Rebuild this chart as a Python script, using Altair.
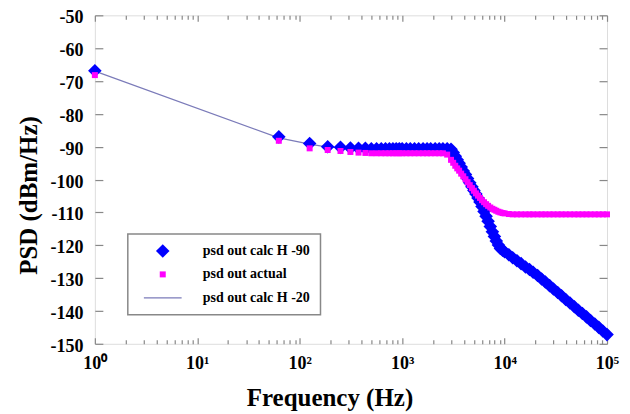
import altair as alt
import pandas as pd

# ---------------- data ----------------
freq = [1, 62.5, 125, 187.5, 250, 312.5, 375, 437.5, 500, 562.5, 625, 687.5, 750, 812.5, 875, 937.5,
        1000, 1100, 1200, 1320, 1450, 1600, 1750, 1900, 2100, 2300, 2500, 2750,
        3000, 3150, 3300, 3450, 3600, 3770, 3950, 4150, 4350, 4570, 4800, 5020, 5250, 5500, 5750, 6020,
        6300, 6600, 6900, 7250, 7600, 7950, 8300, 8700, 9100, 9550,
        10000, 11000, 12000, 13200, 14500, 16000, 17500, 19000, 21000, 23000, 25000, 27500,
        30000, 33000, 36000, 39500, 43500, 48000, 52500, 57500, 63000, 69000, 76000, 83000, 91000, 100000]

psd_calc_h90 = [-66.9, -87.0, -89.0, -90.0, -90.2, -90.4, -90.5, -90.5, -90.6, -90.6, -90.6, -90.6, -90.6, -90.6, -90.6, -90.6,
                -90.6, -90.6, -90.6, -90.6, -90.6, -90.6, -90.6, -90.6, -90.6, -90.6, -90.6, -90.6,
                -90.8, -91.8, -92.9, -94.0, -95.0, -96.2, -97.4, -98.5, -99.7, -101.0, -102.2, -103.3, -104.4, -105.6, -106.8, -108.2,
                -109.7, -111.2, -112.7, -114.3, -115.9, -117.3, -118.7, -119.9, -121.0, -121.5,
                -122.0, -122.9, -123.8, -124.7, -125.6, -126.6, -127.4, -128.2, -129.2, -130.3, -131.2, -132.3,
                -133.3, -134.4, -135.4, -136.5, -137.6, -138.7, -139.8, -140.8, -141.8, -142.9, -144.0, -145.0, -146.1, -147.2]

psd_actual = [-68.2, -88.2, -90.5, -91.0, -91.3, -91.6, -91.8, -91.9, -92.0, -92.0, -92.0, -92.0, -92.0, -92.0, -92.0, -92.0,
              -92.0, -92.0, -92.0, -92.0, -92.0, -92.0, -92.0, -92.0, -92.0, -92.0, -92.0, -92.4,
              -94.0, -94.9, -95.8, -96.6, -97.3, -98.2, -99.0, -99.9, -100.8, -101.7, -102.6, -103.4, -104.2, -104.9, -105.6, -106.3,
              -106.9, -107.5, -108.0, -108.5, -108.9, -109.2, -109.5, -109.8, -110.0, -110.2,
              -110.3, -110.5, -110.6, -110.6, -110.6, -110.6, -110.6, -110.6, -110.6, -110.6, -110.6, -110.6,
              -110.6, -110.6, -110.6, -110.6, -110.6, -110.6, -110.6, -110.6, -110.6, -110.6, -110.6, -110.6, -110.6, -110.6]

psd_calc_h20 = [-67.0, -87.3, -89.2, -90.1, -90.3, -90.4, -90.5, -90.5, -90.6, -90.6, -90.6, -90.6, -90.6, -90.6, -90.6, -90.6,
                -90.6, -90.6, -90.6, -90.6, -90.6, -90.6, -90.6, -90.6, -90.6, -90.6, -90.6, -90.6,
                -90.8, -91.8, -92.9, -94.0, -95.0, -96.2, -97.4, -98.5, -99.7, -101.0, -102.2, -103.3, -104.4, -105.6, -106.8, -108.2,
                -109.7, -111.2, -112.7, -114.3, -115.9, -117.3, -118.7, -119.9, -121.0, -121.5,
                -122.0, -122.9, -123.8, -124.7, -125.6, -126.6, -127.4, -128.2, -129.2, -130.3, -131.2, -132.3,
                -133.3, -134.4, -135.4, -136.5, -137.6, -138.7, -139.8, -140.8, -141.8, -142.9, -144.0, -145.0, -146.1, -147.2]

series_names = ["psd out calc H -90", "psd out actual", "psd out calc H -20"]
series_colors = ["#0000ff", "#ff00ff", "#7b7bb9"]

x_major = [1, 10, 100, 1000, 10000, 100000]
x_minor = [m * d for d in [1, 10, 100, 1000, 10000] for m in range(2, 10)]
y_ticks = list(range(-150, -49, 10))
x_labels = ["10⁰", "10¹", "10²", "10³", "10⁴", "10⁵"]

# ---------------- tables ----------------
df_line = pd.DataFrame({"freq": freq, "psd": psd_calc_h20})
df_pts = pd.concat([
    pd.DataFrame({"freq": freq, "psd": psd_calc_h90, "series": series_names[0]}),
    pd.DataFrame({"freq": freq, "psd": psd_actual, "series": series_names[1]}),
], ignore_index=True)

FONT = "Liberation Serif"
GRAY = "#888888"

x_scale = alt.Scale(type="log", domain=[1, 100000], nice=False)
y_scale = alt.Scale(domain=[-150, -50], nice=False, zero=False)

label_expr = "[" + ",".join("'%s'" % s for s in x_labels) + "][round(log(datum.value)/LN10)]"

x_label_axis = alt.Axis(orient="bottom", values=x_major, labelExpr=label_expr, ticks=False, domain=False,
                        grid=False, labelFont=FONT, labelFontSize=18, labelFontWeight="bold", labelColor="black",
                        labelPadding=11, labelFlush=False, title="Frequency (Hz)", titleFont=FONT, titleFontSize=25,
                        titleFontWeight="bold", titleColor="black", titleX=235, titleY=62,
                        titleBaseline="alphabetic", titleAlign="center")
y_label_axis = alt.Axis(orient="left", values=y_ticks, labelExpr="toString(datum.value)", ticks=False,
                        domain=False, grid=False, labelFont=FONT, labelFontSize=18, labelFontWeight="bold",
                        labelColor="black", labelPadding=12, labelBaseline="alphabetic", labelOffset=7.5,
                        title="PSD (dBm/Hz)", titleFont=FONT, titleFontSize=25,
                        titleFontWeight="bold", titleColor="black", titleX=-58, titleY=180, titleAngle=270,
                        titleBaseline="alphabetic", titleAlign="center")


def tick_axis(orient, values, size):
    return alt.Axis(orient=orient, values=values, offset=-size, tickSize=size, labels=False, domain=False,
                    grid=False, title=None, tickColor=GRAY, tickWidth=1.2)


leg = alt.Legend(title=None, orient="none", legendX=33, legendY=219, fillColor="white", strokeColor=GRAY,
                 padding=10, rowPadding=9.5, labelFont=FONT, labelFontSize=14, labelFontWeight="bold",
                 labelColor="black", labelOffset=33, symbolOffset=18, symbolStrokeWidth=0, symbolOpacity=1)

line = alt.Chart(df_line).mark_line(color=series_colors[2], strokeWidth=1.2).encode(
    x=alt.X("freq:Q", scale=x_scale, axis=x_label_axis),
    y=alt.Y("psd:Q", scale=y_scale, axis=y_label_axis),
)

pts = alt.Chart(df_pts).mark_point(filled=True, opacity=1, strokeWidth=0).encode(
    x=alt.X("freq:Q", scale=x_scale, axis=tick_axis("bottom", x_major, 6)),
    y=alt.Y("psd:Q", scale=y_scale, axis=tick_axis("left", y_ticks, 8)),
    color=alt.Color("series:N", scale=alt.Scale(domain=series_names, range=series_colors), legend=leg),
    shape=alt.Shape("series:N", scale=alt.Scale(domain=series_names,
                                                range=["diamond", "square", "M-2.9,-0.1H2.9V0.1H-2.9Z"]), legend=leg),
    size=alt.Size("series:N", scale=alt.Scale(type="ordinal", domain=series_names, range=[185, 36, 170]), legend=leg),
)

d1 = alt.Chart(df_line).mark_line(opacity=0).encode(
    x=alt.X("freq:Q", scale=x_scale, axis=tick_axis("bottom", x_minor, 4)),
    y=alt.Y("psd:Q", scale=y_scale, axis=tick_axis("right", y_ticks, 8)),
)
d2 = alt.Chart(df_line).mark_line(opacity=0).encode(
    x=alt.X("freq:Q", scale=x_scale, axis=tick_axis("top", x_major, 6)),
    y=alt.Y("psd:Q", scale=y_scale, axis=None),
)
d3 = alt.Chart(df_line).mark_line(opacity=0).encode(
    x=alt.X("freq:Q", scale=x_scale, axis=tick_axis("top", x_minor, 4)),
    y=alt.Y("psd:Q", scale=y_scale, axis=None),
)

chart = alt.layer(line, pts, d1, d2, d3).resolve_axis(x="independent", y="independent").properties(
    width=513, height=329,
    autosize=alt.AutoSizeParams(type="none"),
    padding={"left": 87, "top": 7, "right": 15, "bottom": 70},
    background="white",
).configure_view(stroke=GRAY, strokeWidth=2).configure(font=FONT).configure_legend(strokeWidth=1.5)

chart.save("out.html", embed_options={"renderer": "svg", "actions": False})
